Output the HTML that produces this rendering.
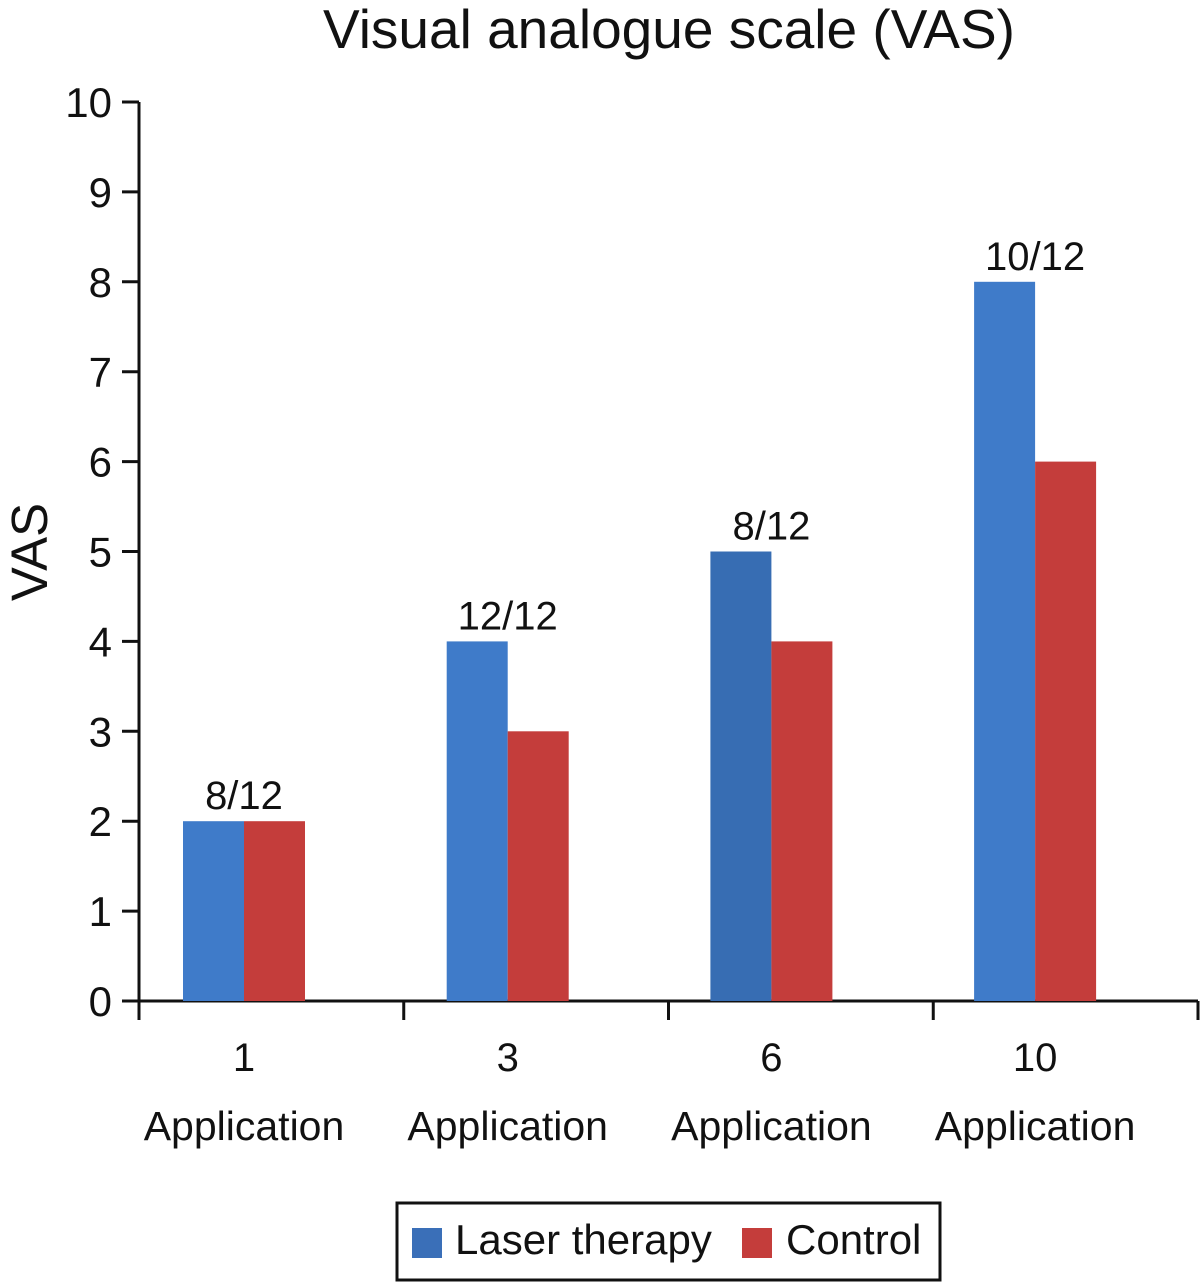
<!DOCTYPE html>
<html><head><meta charset="utf-8"><style>
html,body{margin:0;padding:0;background:#fff}
svg{display:block;font-family:"Liberation Sans",Arial,sans-serif}
</style></head><body>
<svg id="chart" width="1201" height="1283" viewBox="0 0 1201 1283">
<text x="669" y="48" font-size="55" text-anchor="middle" fill="#111">Visual analogue scale (VAS)</text>
<text transform="translate(47,552) rotate(-90)" font-size="51" text-anchor="middle" fill="#111">VAS</text>
<g id="axes"></g>
<g id="bars"></g>
<g>
<rect x="397" y="1203" width="543" height="77" fill="#fff" stroke="#111" stroke-width="3"/>
<rect x="412" y="1228" width="30" height="30" fill="#3a6fb8"/>
<text x="455" y="1254" font-size="42" fill="#111">Laser therapy</text>
<rect x="742" y="1228" width="30" height="30" fill="#c43d3b"/>
<text x="786" y="1254" font-size="42" fill="#111">Control</text>
</g>
</svg>
<script>
const categories = ["1", "3", "6", "10"];
const laserValues = [2, 4, 5, 8];
const controlValues = [2, 3, 4, 6];
const nLabels = ["8/12", "12/12", "8/12", "10/12"];
const yTicks = [0,1,2,3,4,5,6,7,8,9,10];

const NS = "http://www.w3.org/2000/svg";
const y0 = 1001, yTop = 102, yMax = 10;
const xL = 139, xR = 1198;
const yScale = v => y0 - (y0 - yTop) * v / yMax;
const catW = (xR - xL) / categories.length;
const catCenter = i => xL + 105 + 263.7 * i;
const barW = 61;
function mk(tag, attrs, parent){const e=document.createElementNS(NS,tag);for(const k in attrs)e.setAttribute(k,attrs[k]);parent.appendChild(e);return e;}
const axes=document.getElementById('axes'), bars=document.getElementById('bars');

const yAxis = mk('line',{x1:xL,y1:yTop,x2:xL,y2:1020,stroke:'#111','stroke-width':3},axes);


const xAxis = mk('line',{x1:122,y1:y0,x2:xR,y2:y0,stroke:'#111','stroke-width':3},axes);



yTicks.forEach(t=>{
  const y=yScale(t);
  const tk=mk('line',{x1:122,y1:y,x2:xL,y2:y,stroke:'#111','stroke-width':3},axes);
  
  
  const lb=mk('text',{x:112,y:y+15,'font-size':42,'text-anchor':'end',fill:'#111'},axes);
  lb.textContent=t;
  
  
});
for(let i=0;i<=categories.length;i++){
  const x=xL+catW*i;
  const tk=mk('line',{x1:x,y1:y0,x2:x,y2:1020,stroke:'#111','stroke-width':3},axes);
  
  
}
categories.forEach((c,i)=>{
  const cx=catCenter(i);
  const l1=mk('text',{x:cx,y:1071,'font-size':40,'text-anchor':'middle',fill:'#111'},axes);
  l1.textContent=c;
  
  
  const l2=mk('text',{x:cx,y:1140,'font-size':41,'text-anchor':'middle',fill:'#111'},axes);
  l2.textContent='Application';
  
  
  const yb=yScale(laserValues[i]);
  const b=mk('rect',{x:cx-barW,y:yb,width:barW,height:y0-yb,fill:i===2?'#376db3':'#3f7bc9'},bars);
  
  
  const yc=yScale(controlValues[i]);
  const r=mk('rect',{x:cx,y:yc,width:barW,height:y0-yc,fill:'#c43d3b'},bars);
  
  
  const top=Math.min(yb,yc);
  const n=mk('text',{x:cx,y:top-12,'font-size':40,'text-anchor':'middle',fill:'#111'},bars);
  n.textContent=nLabels[i];
  
  
});
</script>
</body></html>
